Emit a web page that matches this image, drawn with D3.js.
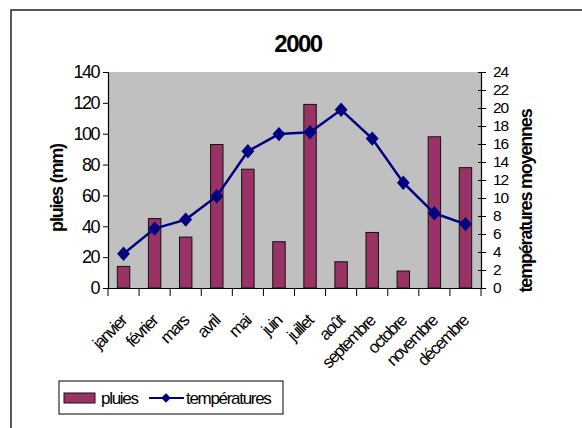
<!DOCTYPE html>
<html>
<head>
<meta charset="utf-8">
<script src="https://cdn.jsdelivr.net/npm/d3@7"></script>
<style>
  body { margin: 0; background: #fff; }
  text { font-family: "Liberation Sans", Arial, sans-serif; }
</style>
</head>
<body>
<div id="chart"></div>
<script>
let w = 582;
let h = 428;
let margin = { top: 72, right: 101, bottom: 140, left: 108 };

let months = ["janvier", "février", "mars", "avril", "mai", "juin", "juillet", "août", "septembre", "octobre", "novembre", "décembre"];
let pluies = [14, 45, 33, 93, 77, 30, 119, 17, 36, 11, 98, 78];
let temperatures = [3.8, 6.6, 7.6, 10.2, 15.2, 17.1, 17.3, 19.8, 16.6, 11.7, 8.3, 7.1];
let pluieTicks = [0, 20, 40, 60, 80, 100, 120, 140];
let tempTicks = [0, 2, 4, 6, 8, 10, 12, 14, 16, 18, 20, 22, 24];

let svg = d3.select("#chart")
  .append("svg")
  .attr("width", w)
  .attr("height", h);

// outer frame (only top and left visible)
svg.append("rect")
  .attr("x", 11).attr("y", 10)
  .attr("width", 600).attr("height", 500)
  .attr("fill", "none")
  .attr("stroke", "#222")
  .attr("stroke-width", 1.5);

let x0 = margin.left, x1 = w - margin.right;
let y0 = h - margin.bottom, y1 = margin.top;

let xScale = d3.scaleBand()
  .domain(months)
  .range([x0, x1]);

let yLeft = d3.scaleLinear().domain([0, 140]).range([y0, y1]);
let yRight = d3.scaleLinear().domain([0, 24]).range([y0, y1]);

// plot area
svg.append("rect")
  .attr("x", x0).attr("y", y1)
  .attr("width", x1 - x0).attr("height", y0 - y1)
  .attr("fill", "#c0c0c0");

// title
svg.append("text")
  .attr("x", 298).attr("y", 52)
  .attr("text-anchor", "middle")
  .style("font-size", "24px")
  .style("font-weight", "bold")
  .style("letter-spacing", "-1.5px")
  .text("2000");

// bars
let bw = xScale.bandwidth() / 2.5;
svg.selectAll(".bar")
  .data(pluies)
  .enter()
  .append("rect")
  .attr("class", "bar")
  .attr("x", (d, i) => xScale(months[i]) + xScale.bandwidth() / 2 - bw / 2)
  .attr("y", d => yLeft(d))
  .attr("width", bw)
  .attr("height", d => y0 - yLeft(d))
  .attr("fill", "#993366")
  .attr("stroke", "#111")
  .attr("stroke-width", 1);

// temperature line
let line = d3.line()
  .x((d, i) => xScale(months[i]) + xScale.bandwidth() / 2)
  .y(d => yRight(d));

svg.append("path")
  .datum(temperatures)
  .attr("fill", "none")
  .attr("stroke", "#000080")
  .attr("stroke-width", 2.5)
  .attr("d", line);

let diamond = d3.symbol().type(d3.symbolDiamond2).size(105);
svg.selectAll(".pt")
  .data(temperatures)
  .enter()
  .append("path")
  .attr("class", "pt")
  .attr("transform", (d, i) => "translate(" + (xScale(months[i]) + xScale.bandwidth() / 2) + "," + yRight(d) + ") scale(1,1.12)")
  .attr("d", diamond)
  .attr("fill", "#000080");

// left axis
let axL = svg.append("g")
  .attr("transform", "translate(" + x0 + ",0)")
  .call(d3.axisLeft(yLeft).tickValues(pluieTicks).tickSize(5).tickPadding(4));

// right axis
let axR = svg.append("g")
  .attr("transform", "translate(" + x1 + ",0)")
  .call(d3.axisRight(yRight).tickValues(tempTicks).tickSize(5).tickPadding(7));
axR.selectAll(".tick line").attr("x1", -3);

// bottom axis
let axB = svg.append("g")
  .attr("transform", "translate(0," + y0 + ")")
  .call(d3.axisBottom(xScale).tickSize(0).tickFormat(""));
axB.selectAll(".tick").remove();
axB.selectAll(".sep")
  .data(d3.range(months.length + 1))
  .enter()
  .append("line")
  .attr("x1", i => x0 + i * xScale.step())
  .attr("x2", i => x0 + i * xScale.step())
  .attr("y1", 0).attr("y2", 8)
  .attr("stroke", "#000");

[axL, axR, axB].forEach(a => {
  a.selectAll(".domain").attr("stroke", "#000").attr("stroke-width", 1.2);
  a.selectAll("line").attr("stroke", "#000");
  a.selectAll("text")
    .style("font-size", "18px")
    .style("letter-spacing", "-1.5px")
    .attr("fill", "#000");
});
axR.selectAll("text")
  .style("font-size", "15.5px")
  .style("letter-spacing", "-1px");

// month labels
svg.selectAll(".month")
  .data(months)
  .enter()
  .append("text")
  .attr("class", "month")
  .attr("text-anchor", "end")
  .attr("transform", d => "translate(" + (xScale(d) + xScale.bandwidth() / 2 + 4) + "," + (y0 + 34) + ") rotate(-45)")
  .style("font-size", "17px")
  .style("letter-spacing", "-1.5px")
  .text(d => d);

// axis titles
svg.append("text")
  .attr("transform", "translate(63,188) rotate(-90)")
  .attr("text-anchor", "middle")
  .style("font-size", "18px")
  .style("font-weight", "bold")
  .style("letter-spacing", "-1.2px")
  .text("pluies (mm)");

svg.append("text")
  .attr("transform", "translate(532,201) rotate(-90)")
  .attr("text-anchor", "middle")
  .style("font-size", "18px")
  .style("font-weight", "bold")
  .style("letter-spacing", "-1.2px")
  .text("températures moyennes");

// legend
let lg = svg.append("g");
lg.append("rect")
  .attr("x", 59).attr("y", 381)
  .attr("width", 224).attr("height", 33)
  .attr("fill", "#fff")
  .attr("stroke", "#000");
lg.append("rect")
  .attr("x", 64).attr("y", 393)
  .attr("width", 31).attr("height", 10)
  .attr("fill", "#993366")
  .attr("stroke", "#111");
lg.append("text")
  .attr("x", 101).attr("y", 404)
  .style("font-size", "17px")
  .style("letter-spacing", "-1.3px")
  .text("pluies");
lg.append("line")
  .attr("x1", 149).attr("x2", 184)
  .attr("y1", 398).attr("y2", 398)
  .attr("stroke", "#000080")
  .attr("stroke-width", 2);
lg.append("path")
  .attr("transform", "translate(166,398)")
  .attr("d", d3.symbol().type(d3.symbolDiamond2).size(60))
  .attr("fill", "#000080");
lg.append("text")
  .attr("x", 186).attr("y", 404)
  .style("font-size", "17px")
  .style("letter-spacing", "-1.3px")
  .text("températures");
</script>
</body>
</html>
